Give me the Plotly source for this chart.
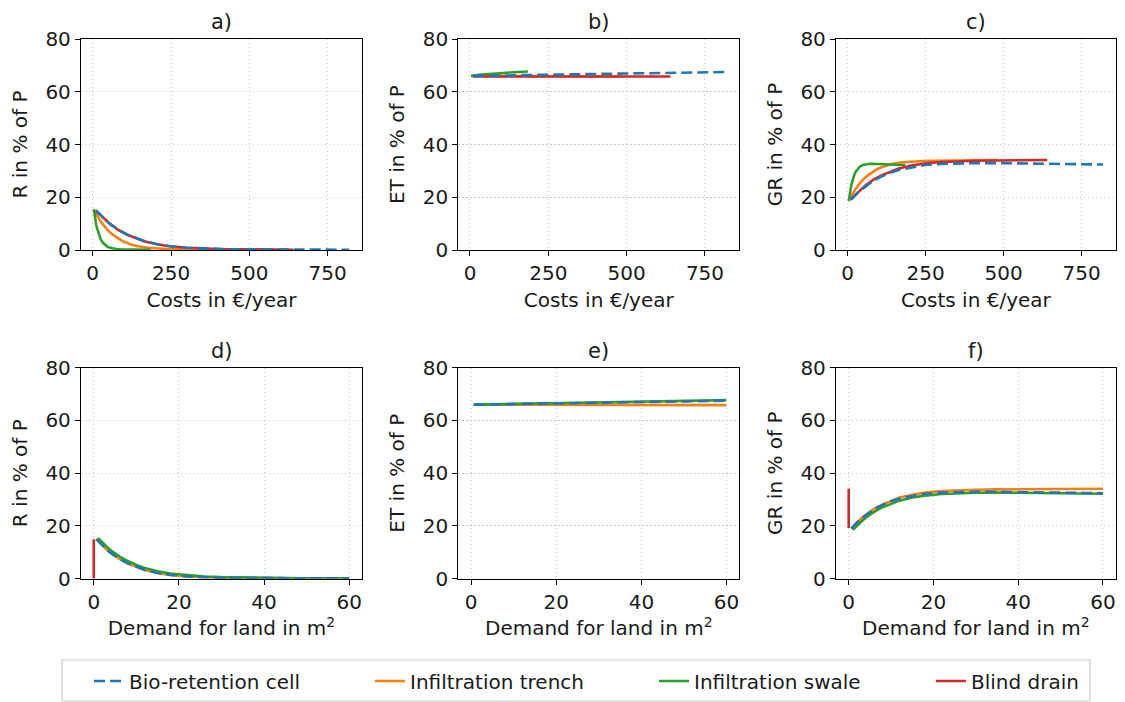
import plotly.graph_objects as go
from plotly.subplots import make_subplots

# ---- Bio-retention cell ----
bio_land = [0.6, 1, 1.5, 2, 3, 4, 5, 6, 8, 10, 12, 15, 18, 22, 26, 30, 35, 40, 45, 50, 55, 60]
bio_cost = [10.5, 15.9, 22.7, 29.6, 43.2, 56.8, 70.4, 84.0, 111.2, 138.4, 165.7, 206.5, 247.3,
            301.8, 356.2, 410.7, 478.7, 546.8, 614.8, 682.9, 750.9, 819.0]
bio_r = [15.0, 14.3, 13.4, 12.6, 11.1, 9.8, 8.6, 7.5, 5.8, 4.4, 3.3, 2.2, 1.4, 0.85, 0.5, 0.35,
         0.25, 0.2, 0.15, 0.12, 0.1, 0.1]
bio_et = [66.0, 66.0, 66.0, 66.0, 66.1, 66.1, 66.1, 66.1, 66.2, 66.2, 66.3, 66.4, 66.4, 66.5,
          66.6, 66.7, 66.8, 67.0, 67.1, 67.2, 67.4, 67.5]
bio_gr = [19.0, 19.7, 20.6, 21.4, 22.8, 24.1, 25.3, 26.4, 28.0, 29.4, 30.4, 31.4, 32.2, 32.65,
          32.9, 32.95, 32.95, 32.8, 32.75, 32.7, 32.5, 32.4]

# ---- Infiltration trench ----
trench_land = [0.6, 1, 1.5, 2, 3, 4, 5, 6, 8, 10, 12, 15, 18, 22, 26, 30, 35, 40, 45, 50, 55, 60]
trench_cost = [4.8, 8, 12, 16, 24, 32, 40, 48, 64, 80, 96, 120, 144, 176, 208, 240, 280, 320,
               360, 400, 440, 480]
trench_r = [15.0, 14.3, 13.4, 12.6, 11.1, 9.8, 8.6, 7.5, 5.8, 4.4, 3.3, 2.2, 1.4, 0.85, 0.5, 0.35,
            0.25, 0.2, 0.15, 0.12, 0.1, 0.1]
trench_et = [66.0, 66.0, 66.0, 66.0, 66.0, 66.0, 66.0, 66.0, 66.0, 66.0, 65.95, 65.95, 65.95,
             65.9, 65.9, 65.9, 65.9, 65.85, 65.85, 65.85, 65.8, 65.8]
trench_gr = [19.0, 19.7, 20.6, 21.4, 22.9, 24.2, 25.4, 26.5, 28.2, 29.6, 30.75, 31.85, 32.65,
             33.25, 33.6, 33.75, 33.85, 33.95, 34.0, 34.03, 34.1, 34.1]

# ---- Infiltration swale ----
swale_land = [1.0, 1.5, 2, 3, 4, 5, 6, 8, 10, 12, 15, 18, 22, 26, 30, 35, 40, 45, 50, 55, 60]
swale_cost = [3.5, 4.4, 5.4, 7.3, 9.3, 11.3, 13.3, 17.3, 21.4, 25.5, 31.8, 38.1, 46.6, 55.2,
              64.0, 76.0, 90.0, 108.0, 128.0, 153.0, 185.0]
swale_r = [15.5, 14.6, 13.8, 12.2, 10.8, 9.6, 8.5, 6.7, 5.2, 4.1, 2.8, 2.0, 1.3, 0.85, 0.6, 0.4,
           0.3, 0.22, 0.18, 0.15, 0.12]
swale_et = [66.0, 66.0, 66.0, 66.1, 66.1, 66.1, 66.2, 66.2, 66.3, 66.3, 66.4, 66.5, 66.6, 66.7,
            66.8, 66.9, 67.1, 67.2, 67.3, 67.5, 67.7]
swale_gr = [18.5, 19.4, 20.2, 21.7, 23.1, 24.3, 25.3, 27.1, 28.5, 29.6, 30.8, 31.5, 32.1, 32.45,
            32.6, 32.7, 32.6, 32.58, 32.52, 32.35, 32.2]

# ---- Blind drain (no land demand) ----
drain_land = [0] * 20
drain_cost = [10, 16, 23, 29, 43, 56, 70, 83, 110, 137, 164, 205, 245, 299, 353, 407, 475, 542,
              600, 640]
drain_r = [15.0, 14.3, 13.4, 12.6, 11.1, 9.8, 8.6, 7.5, 5.8, 4.4, 3.3, 2.2, 1.4, 0.85, 0.5, 0.35,
           0.25, 0.2, 0.15, 0.12]
drain_et = [65.8] * 20
drain_gr = [19.2, 19.9, 20.8, 21.6, 23.1, 24.4, 25.6, 26.7, 28.4, 29.8, 30.9, 32.0, 32.8, 33.35,
            33.7, 33.85, 33.95, 34.0, 34.05, 34.1]

panel_titles = ["a)", "b)", "c)", "d)", "e)", "f)"]
y_titles = ["R in % of P", "ET in % of P", "GR in % of P"]
x_titles = ["Costs in €/year", "Demand for land in m<sup>2</sup>"]
cost_ticks = [0, 250, 500, 750]
land_ticks = [0, 20, 40, 60]
y_ticks = [0, 20, 40, 60, 80]

FONT = "DejaVu Sans"
FS = 20
INK = "#1a1a1a"
W, H = 1125, 702

# series in drawing order (dashed blue drawn last, on top)
series = [
    dict(name="Infiltration trench", color="#ff7f0e", dash="solid", legend="legend2",
         land=trench_land, cost=trench_cost, vals=[trench_r, trench_et, trench_gr]),
    dict(name="Infiltration swale", color="#2ca02c", dash="solid", legend="legend3",
         land=swale_land, cost=swale_cost, vals=[swale_r, swale_et, swale_gr]),
    dict(name="Blind drain", color="#d62728", dash="solid", legend="legend4",
         land=drain_land, cost=drain_cost, vals=[drain_r, drain_et, drain_gr]),
    dict(name="Bio-retention cell", color="#1f77b4", dash="11px,5px", legend="legend",
         land=bio_land, cost=bio_cost, vals=[bio_r, bio_et, bio_gr]),
]

fig = make_subplots(rows=2, cols=3)

for s in series:
    for row in (1, 2):
        xs = s["cost"] if row == 1 else s["land"]
        for col in (1, 2, 3):
            fig.add_trace(go.Scatter(
                x=xs, y=s["vals"][col - 1], mode="lines", name=s["name"],
                line=dict(color=s["color"], width=2.6, dash=s["dash"]),
                legend=s["legend"], showlegend=(row == 1 and col == 1),
                hoverinfo="skip",
            ), row=row, col=col)

# axes geometry in pixels
col_px = [(81, 362), (458.3, 739.3), (836, 1115.7)]
row_px = [(39, 250), (367.7, 578.7)]

axis_common = dict(
    showline=True, linecolor="black", linewidth=1.3, mirror=True,
    ticks="outside", ticklen=5, tickwidth=1.3, tickcolor="black",
    showgrid=True, gridcolor="#c8c8c8", griddash="1.2px,2.8px", gridwidth=1,
    zeroline=False, automargin=False, tickfont=dict(family=FONT, size=FS, color=INK),
)

for row in (1, 2):
    for col in (1, 2, 3):
        x0, x1 = col_px[col - 1]
        y0, y1 = row_px[row - 1]
        fig.update_xaxes(
            domain=[x0 / W, x1 / W],
            range=[-37.3, 859.5] if row == 1 else [-3, 63],
            tickvals=cost_ticks if row == 1 else land_ticks,
            title=dict(text=x_titles[row - 1], standoff=8,
                       font=dict(family=FONT, size=FS, color=INK)),
            **axis_common, row=row, col=col)
        fig.update_yaxes(
            domain=[1 - y1 / H, 1 - y0 / H],
            range=[0, 80], tickvals=y_ticks,
            title=dict(text=y_titles[col - 1], standoff=12,
                       font=dict(family=FONT, size=FS, color=INK)),
            **axis_common, row=row, col=col)

# panel letters above each axes
for i, t in enumerate(panel_titles):
    row, col = i // 3 + 1, i % 3 + 1
    x0, x1 = col_px[col - 1]
    y0, _ = row_px[row - 1]
    fig.add_annotation(text=t, xref="paper", yref="paper",
                       x=(x0 + x1) / 2 / W, y=1 - (y0 - 17) / H,
                       xanchor="center", yanchor="middle", showarrow=False,
                       font=dict(family=FONT, size=21, color=INK))

# legend frame
lx0, lx1, ly0, ly1 = 62, 1090, 660, 701
fig.add_shape(type="rect", xref="paper", yref="paper",
              x0=lx0 / W, x1=lx1 / W, y0=1 - ly1 / H, y1=1 - ly0 / H,
              line=dict(color="#cccccc", width=1.2), fillcolor="rgba(255,255,255,0.8)",
              layer="below")

legend_style = dict(orientation="h", yanchor="middle", xanchor="left",
                    xref="container", yref="container",
                    bgcolor="rgba(0,0,0,0)", borderwidth=0,
                    font=dict(family=FONT, size=FS, color=INK))
legend_x = {"legend": 89, "legend2": 370, "legend3": 654, "legend4": 931}
layout_legends = {}
for key, px in legend_x.items():
    layout_legends[key] = dict(x=px / W, y=1 - 681 / H, **legend_style)

fig.update_layout(
    width=W, height=H, margin=dict(l=0, r=0, t=0, b=0, autoexpand=False),
    paper_bgcolor="white", plot_bgcolor="white",
    font=dict(family=FONT, size=FS, color=INK),
    **layout_legends,
)

fig.write_html("out.html")
